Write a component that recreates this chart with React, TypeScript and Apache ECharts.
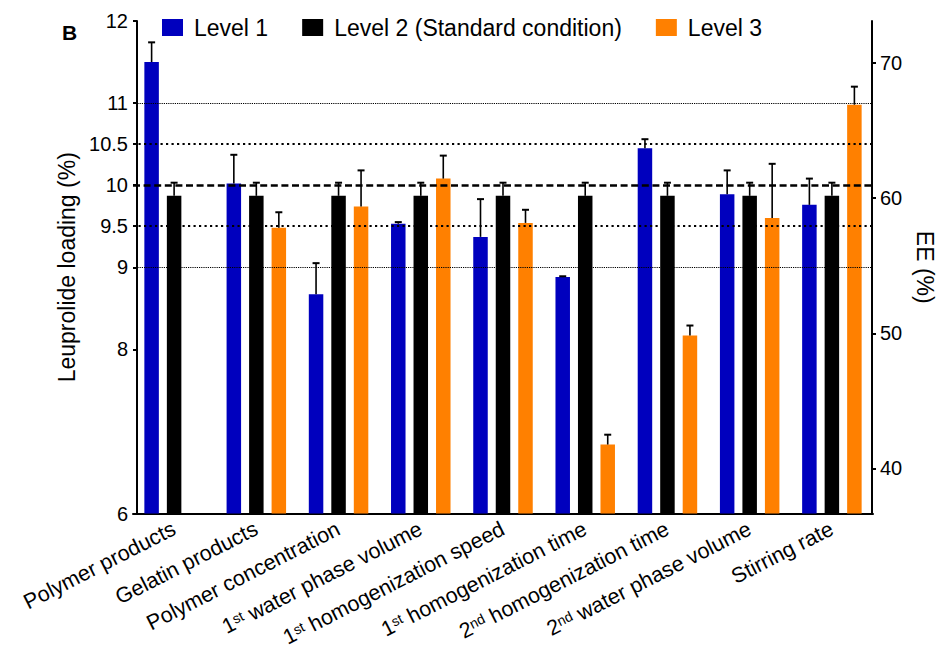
import React, { useEffect, useRef } from "react";
import * as echarts from "echarts";

const categories = [
  "Polymer products",
  "Gelatin products",
  "Polymer concentration",
  "1st water phase volume",
  "1st homogenization speed",
  "1st homogenization time",
  "2nd homogenization time",
  "2nd water phase volume",
  "Stirring rate",
];

const seriesNames = ["Level 1", "Level 2 (Standard condition)", "Level 3"];

const level1 = [11.5, 10.02, 8.67, 9.53, 9.37, 8.88, 10.45, 9.89, 9.76];
const level1Err = [0.24, 0.35, 0.38, 0.02, 0.46, 0.01, 0.11, 0.29, 0.32];

const level2 = [9.87, 9.87, 9.87, 9.87, 9.87, 9.87, 9.87, 9.87, 9.87];
const level2Err = [0.16, 0.16, 0.16, 0.16, 0.16, 0.16, 0.16, 0.16, 0.16];

const level3 = [null, 9.48, 9.74, 10.08, 9.54, 6.84, 8.17, 9.6, 10.98];
const level3Err = [null, 0.19, 0.44, 0.28, 0.16, 0.12, 0.12, 0.66, 0.22];

const leftTicks = [6, 8, 9, 9.5, 10, 10.5, 11, 12];
const rightTicks = [40, 50, 60, 70];
const leftRange = [6, 12];
const rightRange = [36.67, 73.1];

const refFine = [9, 11];
const refDotted = [9.5, 10.5];
const refDashed = [10];

const colors = ["#0000BE", "#000000", "#FF8000"];
const FONT = "'Liberation Sans', Arial, Helvetica, sans-serif";
const BAR_W = 14.5;
const BAR_GAP = 8;

export default function App() {
  const ref = useRef<HTMLDivElement>(null);

  useEffect(() => {
    if (!ref.current) return;
    const chart = echarts.init(ref.current, null, { renderer: "svg" });

    const values = [level1, level2, level3];
    const errs = [level1Err, level2Err, level3Err];

    const barSeries = values.map((vals, k) => ({
      name: seriesNames[k],
      type: "bar",
      data: vals.map((v) => (v == null ? "-" : v)),
      barWidth: BAR_W,
      barGap: (BAR_GAP / BAR_W) * 100 + "%",
      itemStyle: { color: colors[k] },
      z: 3,
      yAxisIndex: 0,
    }));

    const errSeries = values.map((vals, k) => ({
      name: "err" + k,
      type: "custom",
      yAxisIndex: 0,
      z: 4,
      silent: true,
      data: vals
        .map((v, i) => (v == null ? null : [i, v, errs[k][i]]))
        .filter((d) => d != null),
      renderItem: (params: any, api: any) => {
        const ci = api.value(0);
        const m = api.value(1);
        const e = api.value(2);
        const base = api.coord([ci, m]);
        const top = api.coord([ci, m + e]);
        const off = (k - 1) * (BAR_W + BAR_GAP);
        const x = base[0] + off;
        const capHalf = 3.5;
        return {
          type: "group",
          children: [
            {
              type: "line",
              shape: { x1: x, y1: base[1], x2: x, y2: top[1] },
              style: { stroke: "#000", lineWidth: 1.6 },
            },
            {
              type: "line",
              shape: { x1: x - capHalf, y1: top[1], x2: x + capHalf, y2: top[1] },
              style: { stroke: "#000", lineWidth: 2 },
            },
          ],
        };
      },
    }));

    const markData: any[] = [];
    refFine.forEach((v) =>
      markData.push({ yAxis: v, lineStyle: { color: "#000", width: 1.1, type: [1.2, 1] } })
    );
    refDotted.forEach((v) =>
      markData.push({ yAxis: v, lineStyle: { color: "#000", width: 2.2, type: [2.2, 3.3] } })
    );
    refDashed.forEach((v) =>
      markData.push({ yAxis: v, lineStyle: { color: "#000", width: 2.5, type: [7, 3.6] } })
    );

    const refSeries = {
      name: "ref",
      type: "line",
      data: [],
      yAxisIndex: 0,
      z: 1,
      silent: true,
      markLine: {
        silent: true,
        symbol: "none",
        label: { show: false },
        animation: false,
        data: markData,
      },
    };

    const option: any = {
      animation: false,
      textStyle: { fontFamily: FONT },
      graphic: [
        {
          type: "text",
          left: 62,
          top: 22,
          style: { text: "B", font: `bold 21px ${FONT}`, fill: "#000" },
        },
      ],
      legend: {
        data: seriesNames,
        left: 162,
        top: 16,
        padding: 0,
        icon: "rect",
        itemWidth: 21,
        itemHeight: 17,
        itemGap: 34,
        textStyle: { fontSize: 23, color: "#000", fontFamily: FONT, padding: [0, 0, 0, 6] },
      },
      grid: {
        left: 133,
        right: 64,
        top: 21,
        bottom: 135.5,
        containLabel: false,
        outerBoundsMode: "none",
      },
      xAxis: {
        type: "category",
        data: categories,
        axisLine: { lineStyle: { color: "#000", width: 2 } },
        axisTick: { alignWithLabel: true, length: 5, lineStyle: { color: "#000", width: 2 } },
        axisLabel: {
          interval: 0,
          rotate: 27,
          margin: 14,
          color: "#000",
          formatter: (v: string) => {
            const m = v.match(/^(\d)(st|nd)(.*)$/);
            return m ? `{n|${m[1]}}{s|${m[2]}}{n|${m[3]}}` : `{n|${v}}`;
          },
          rich: {
            n: { fontSize: 21.5, fontFamily: FONT, color: "#000", lineHeight: 20 },
            s: { fontSize: 14, fontFamily: FONT, color: "#000", lineHeight: 12, verticalAlign: "top" },
          },
        },
      },
      yAxis: [
        {
          type: "value",
          min: leftRange[0],
          max: leftRange[1],
          offset: -4,
          name: "Leuprolide loading (%)",
          nameLocation: "middle",
          nameGap: 53,
          nameTextStyle: { fontSize: 23, color: "#000", fontFamily: FONT },
          axisLine: { show: true, lineStyle: { color: "#000", width: 2 } },
          axisTick: { show: true, length: 4, customValues: leftTicks, lineStyle: { color: "#000", width: 2 } },
          axisLabel: { customValues: leftTicks, fontSize: 20, color: "#000", margin: 9, fontFamily: FONT },
          splitLine: { show: false },
        },
        {
          type: "value",
          position: "right",
          min: rightRange[0],
          max: rightRange[1],
          offset: -1,
          name: "EE (%)",
          nameLocation: "middle",
          nameRotate: -90,
          nameGap: 39,
          nameTextStyle: { fontSize: 23, color: "#000", fontFamily: FONT },
          axisLine: { show: true, lineStyle: { color: "#000", width: 2 } },
          axisTick: { show: true, length: 4, customValues: rightTicks, lineStyle: { color: "#000", width: 2 } },
          axisLabel: { customValues: rightTicks, fontSize: 20, color: "#000", margin: 8, fontFamily: FONT },
          splitLine: { show: false },
        },
      ],
      series: [refSeries, ...barSeries, ...errSeries],
    };

    chart.setOption(option);
    return () => chart.dispose();
  }, []);

  return (
    <div
      ref={ref}
      style={{ position: "fixed", left: 0, top: 0, width: 937, height: 649, background: "#fff" }}
    />
  );
}
